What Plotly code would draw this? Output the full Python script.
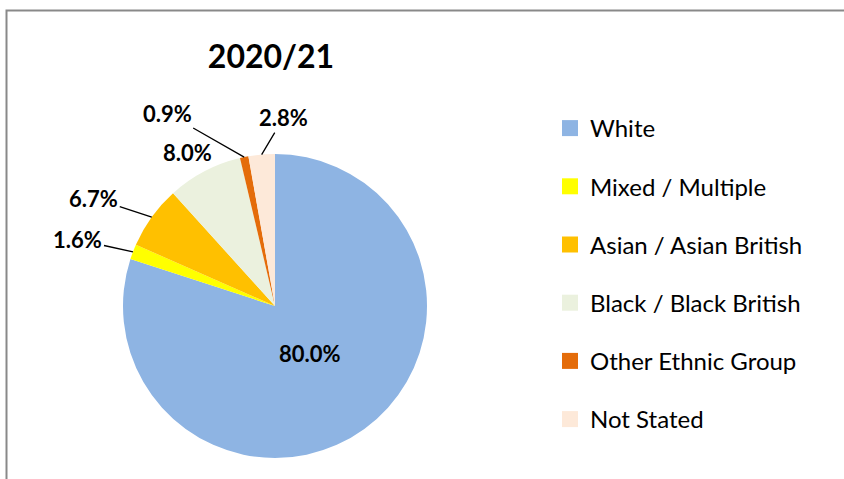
import math
import plotly.graph_objects as go

# ---- data ----
categories = ["White", "Mixed / Multiple", "Asian / Asian British",
              "Black / Black British", "Other Ethnic Group", "Not Stated"]
values = [80.0, 1.6, 6.7, 8.0, 0.9, 2.8]
colors = ["#8EB4E3", "#FFFF00", "#FFC000", "#EBF1DE", "#E46C0A", "#FDE9D9"]
title_text = "2020/21"

W, H = 844, 479
CX, CY, R = 275, 306, 152  # pie centre / radius in pixels (layout)

fig = go.Figure()

labels_txt = [f"{v:.1f}%" for v in values]

fig.add_trace(go.Pie(
    labels=categories, values=values, sort=False, direction="clockwise",
    rotation=0, marker=dict(colors=colors, line=dict(width=0)),
    textinfo="none", showlegend=False, hoverinfo="label+percent",
    domain=dict(x=[(CX - R) / W, (CX + R) / W],
                y=[(H - CY - R) / H, (H - CY + R) / H]),
))

# legend entries (dummy traces so the legend can be spaced like the original)
for cat, col in zip(categories, colors):
    fig.add_trace(go.Scatter(x=[None], y=[None], mode="markers", name=cat,
                             legendgroup=cat,
                             marker=dict(symbol="square", size=16, color=col)))

# data labels anchored on slice mid-angles
# (dx, dy, arrow, radius fraction)
offsets = {0: (0, 0, False, 0.39),
           1: (-55, -12, True, 1.0), 2: (-58, -19, True, 1.0),
           3: (-17, -19, False, 1.0), 4: (-77, -44, True, 1.0),
           5: (22, -37, True, 1.0)}
total = sum(values)
cum = 0.0
annotations = []
for i, v in enumerate(values):
    mid = (cum + v / 2) / total * 2 * math.pi
    cum += v
    dx, dy, arrow, rf = offsets[i]
    px = CX + rf * R * math.sin(mid)
    py = CY - rf * R * math.cos(mid)
    common = dict(text=labels_txt[i], xref="paper", yref="paper",
                  xanchor="center", yanchor="middle",
                  font=dict(family="Lato", size=22, color="black", weight="bold"))
    if arrow:
        annotations.append(dict(x=px / W, y=1 - py / H, showarrow=True,
                                ax=dx, ay=dy, arrowhead=0, arrowwidth=1.3,
                                arrowcolor="black", standoff=0, **common))
    else:
        annotations.append(dict(x=(px + dx) / W, y=1 - (py + dy) / H,
                                showarrow=False, **common))

fig.update_layout(
    width=W, height=H, margin=dict(l=0, r=0, t=0, b=0),
    paper_bgcolor="white", plot_bgcolor="white",
    title=dict(text=title_text, x=271 / W, y=1 - 57 / H, xanchor="center",
               yanchor="middle",
               font=dict(family="Lato", size=32, color="black", weight="bold")),
    xaxis=dict(visible=False), yaxis=dict(visible=False),
    legend=dict(x=550 / W, y=1 - 106 / H, xanchor="left", yanchor="top",
                font=dict(family="Lato", size=24, color="black"),
                traceorder="grouped", tracegroupgap=24, itemsizing="trace",
                bgcolor="rgba(0,0,0,0)"),
    annotations=annotations,
    shapes=[dict(type="path", xref="paper", yref="paper",
                 path=f"M {6.5 / W} 0 L {6.5 / W} {1 - 10.5 / H} L 1 {1 - 10.5 / H}",
                 line=dict(color="#898989", width=2))],
)

fig.write_html("out.html", config={"displayModeBar": False},
               post_script="document.body.style.margin='0';"
                           "document.body.style.overflow='hidden';")
